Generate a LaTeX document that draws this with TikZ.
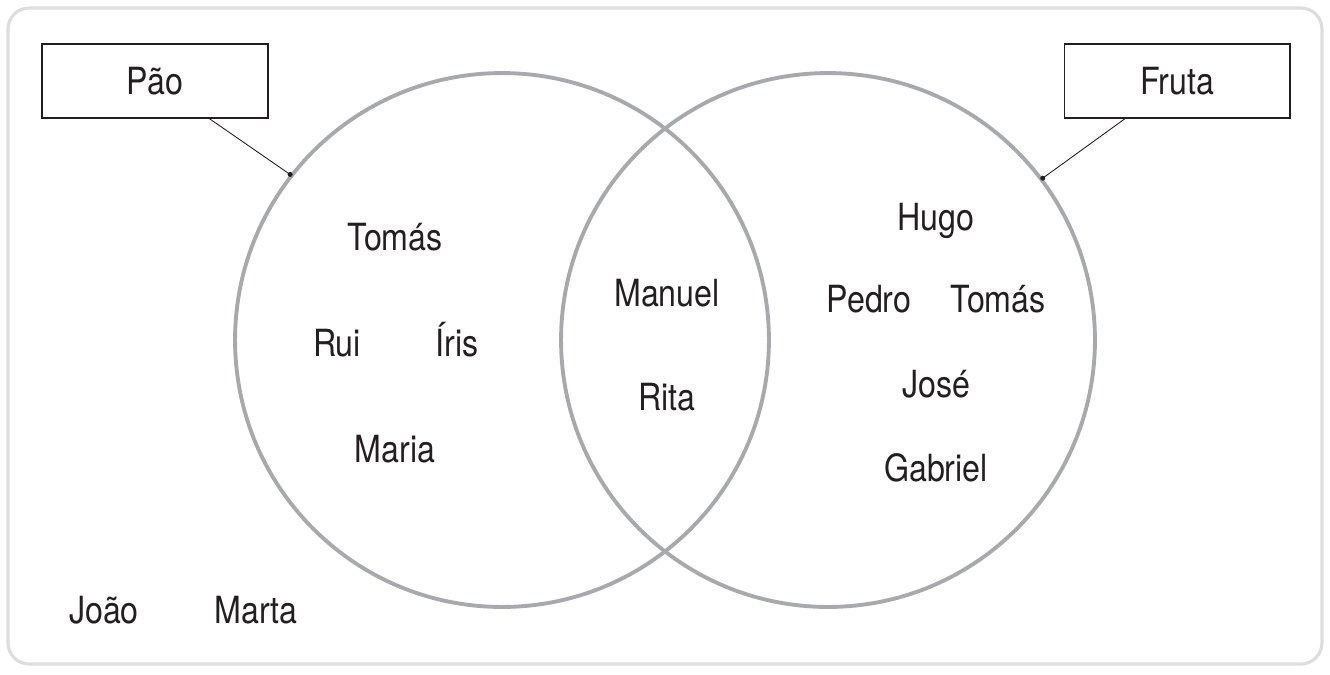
\documentclass[tikz,border=0pt]{standalone}
\usepackage{fontspec}
\setmainfont{TeX Gyre Heros}[FakeStretch=0.86]
\usetikzlibrary{positioning}
\definecolor{framegray}{HTML}{DCDDDE}
\definecolor{setgray}{HTML}{A7A9AC}
\definecolor{ink}{HTML}{231F20}
\tikzset{
    setring/.style={
        circle,
        draw=setgray,
        line width=2.2pt,
        minimum size=10.68cm,
        inner sep=0pt
    },
    tagbox/.style={
        draw=ink,
        line width=0.6pt,
        minimum width=4.52cm,
        minimum height=1.48cm,
        text height=0.54cm,
        text depth=0pt,
        inner sep=0pt
    },
    member/.style={
        text=ink,
        text height=0.54cm,
        text depth=0pt,
        inner sep=0pt
    },
    pin/.style={
        circle,
        fill=ink,
        minimum size=0.1cm,
        inner sep=0pt
    }
}

\begin{document}
\begin{tikzpicture}[x=0.02cm,y=-0.02cm,font=\fontsize{21.3pt}{25pt}\selectfont]
\useasboundingbox (0,0) rectangle (1330,674);
\draw[framegray,line width=1.8pt,rounded corners=12pt] (8,8) rectangle (1322,664);
% the two sets
\node[setring] (setpao) at (502,340) {};
\node[setring] (setfruta) at (828,340) {};
% labels
\node[tagbox,text=ink] (pao) at (155,81) {Pão};
\node[tagbox,text=ink] (fruta) at (1177,81) {Fruta};
\node[pin] (pinpao) at (setpao.142.3) {};
\node[pin] (pinfruta) at (setfruta.37.4) {};
\draw[ink,line width=0.5pt] (pao) -- (pinpao.center);
\draw[ink,line width=0.5pt] (fruta) -- (pinfruta.center);
% only bread
\node[member] (tomas1) at (395,237) {Tomás};
\node[member] (rui) at (337,343) {Rui};
\node[member] (iris) at (457,343) {Íris};
\node[member] (maria) at (395,449) {Maria};
% both
\node[member] (manuel) at (667,293) {Manuel};
\node[member] (rita) at (667,397) {Rita};
% only fruit
\node[member] (hugo) at (936,217) {Hugo};
\node[member] (pedro) at (869,299) {Pedro};
\node[member] (tomas2) at (998,299) {Tomás};
\node[member] (jose) at (936,384) {José};
\node[member] (gabriel) at (936,468) {Gabriel};
% neither
\node[member] (joao) at (104,610) {João};
\node[member] (marta) at (256,610) {Marta};
\end{tikzpicture}
\end{document}
